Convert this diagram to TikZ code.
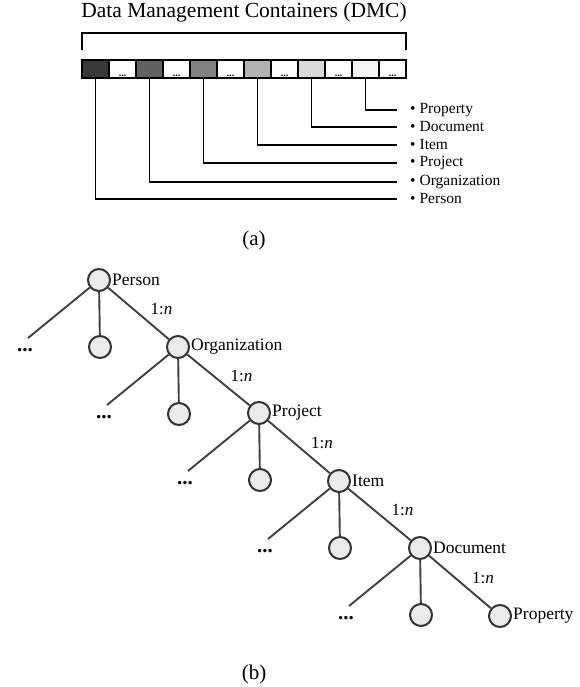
\documentclass[tikz,border=0pt]{standalone}
\usepackage{fontspec}
\setmainfont{Liberation Serif}
\usetikzlibrary{calc}
\begin{document}
\begin{tikzpicture}[x=1pt,y=-1pt,
  cell/.style={draw=black,line width=1.4pt,minimum width=27pt,minimum height=18pt,inner sep=0pt,outer sep=0pt},
  dotcell/.style={cell,fill=white,label={[font=\fontsize{10}{10}\selectfont\bfseries,inner sep=0pt,anchor=south,yshift=1pt]south:...}},
  leader/.style={line width=1.3pt,draw=black},
  itemlbl/.style={anchor=west,inner sep=0pt,font=\fontsize{15.5}{17}\selectfont},
  ent/.style={circle,draw=black!80,fill=black!8,line width=2pt,minimum size=22pt,inner sep=0pt},
  edge/.style={draw=black!75,line width=1.9pt},
  entlbl/.style={anchor=west,inner sep=1pt,font=\fontsize{17.5}{19}\selectfont},
  card/.style={inner sep=0pt,font=\fontsize{17}{19}\selectfont},
  more/.style={inner sep=0pt,font=\fontsize{21}{22}\selectfont\bfseries},
  subcap/.style={inner sep=0pt,font=\fontsize{21}{24}\selectfont}]
\useasboundingbox (0,0) rectangle (580,687);

% ---- (a) container strip ----
\node[inner sep=0pt,font=\fontsize{21.5}{24}\selectfont] (title) at (244,12) {Data Management Containers (DMC)};
\draw[line width=1.3pt] (82,50) -- (82,33) -- (406,33) -- (406,50);

\foreach \i/\c in {0/black!78,2/black!62,4/black!49,6/black!30,8/black!15,10/black!4}{
  \node[cell,fill=\c] (c\i) at ({95.5+27*\i},69) {};
}
\foreach \i in {1,3,5,7,9,11}{
  \node[dotcell] (c\i) at ({95.5+27*\i},69) {};
}

% leaders from coloured cells to item list
\foreach \i/\y/\n/\t in {0/199/per/Person,2/182/org/Organization,4/163/pro/Project,6/145/itm/Item,8/127/doc/Document,10/110/prp/Property}{
  \coordinate (e\n) at (397,\y);
  \node[itemlbl] (l\n) at (410,\y) {\textbullet\hspace{4pt}\t};
  \draw[leader] (c\i.south) |- (e\n);
}

\node[subcap] (capa) at (254,240) {(a)};

% ---- (b) hierarchy tree ----
\node[ent] (n1) at (99,280) {};
\node[ent] (n2) at (178,347) {};
\node[ent] (n3) at (259,413) {};
\node[ent] (n4) at (339,481) {};
\node[ent] (n5) at (420,548) {};
\node[ent] (n6) at (500,616) {};

\node[entlbl] at (n1.east) {Person};
\node[entlbl] at (n2.east) {Organization};
\node[entlbl] at (n3.east) {Project};
\node[entlbl] at (n4.east) {Item};
\node[entlbl] at (n5.east) {Document};
\node[entlbl] at (n6.east) {Property};

\foreach \p/\q in {1/2,2/3,3/4,4/5,5/6}{
  \draw[edge] (n\p) -- (n\q);
  \node[card] at ($(n\p)!0.5!(n\q)+(23,-4)$) {1:\textit{n}};
}

% side children of each parent
\foreach \p in {1,...,5}{
  \node[ent] (m\p) at ($(n\p)+(1,67)$) {};
  \draw[edge] (n\p) -- (m\p);
  \coordinate (d\p) at ($(n\p)+(-71,58)$);
  \draw[edge] (n\p) -- (d\p);
  \node[more] (x\p) at ($(d\p)+(-3,12)$) {...};
}

\node[subcap] (capb) at (254,674) {(b)};
\end{tikzpicture}
\end{document}
